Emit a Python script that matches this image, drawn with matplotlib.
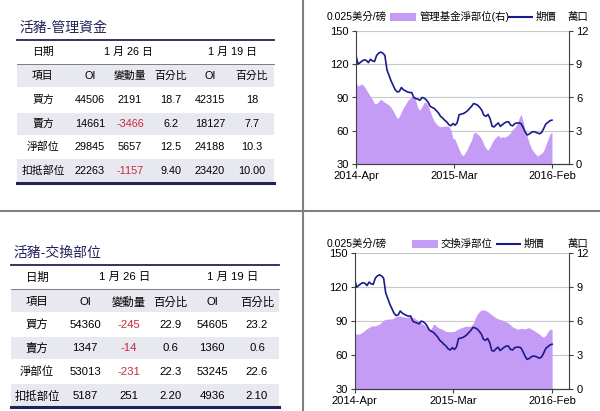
import matplotlib
matplotlib.use('agg')
import matplotlib.pyplot as plt
from matplotlib.patches import Rectangle
from matplotlib.lines import Line2D
import numpy as np

plt.rcParams['font.family'] = ['Liberation Sans', 'Noto Sans CJK TC']

# weekly futures price (0.025 US cents / lb), 2014-Apr .. 2016-Jan
price = [128, 120, 121.5, 123, 124, 123.5, 121.5, 124.5, 123, 122.5,
         128, 130, 131, 130, 128, 115, 110, 105, 101, 97,
         95, 95.5, 99, 97, 96, 95, 94.5, 94.5, 90, 89,
         88.5, 87.5, 90, 89.5, 88, 85.5, 82, 81, 80, 78,
         76, 73, 71.5, 69.5, 68, 65.5, 64.5, 66.5, 65, 67,
         74.5, 75, 75.5, 76.5, 78, 80, 82, 84.5, 84, 83,
         81, 78.5, 74, 73, 74.7, 71, 64, 63.5, 65.5, 67,
         64, 65.5, 67, 68, 68, 65, 64.5, 66.5, 67, 67,
         66.5, 63, 59, 56.2, 57, 58.5, 59.2, 58.8, 58, 57.2,
         58.5, 62, 66, 67.5, 69, 69.6]

# managed money net position (10k contracts)
mm_net = [7.3, 7.05, 7.15, 7.2, 7.0, 6.7, 6.4, 6.1, 5.8, 5.45,
          5.45, 5.65, 5.85, 5.7, 5.55, 5.45, 5.3, 5.1, 4.8, 4.45,
          4.1, 4.3, 4.7, 5.1, 5.4, 5.7, 5.9, 6.05, 6.15, 5.7,
          5.05, 4.86, 5.2, 5.55, 5.55, 5.25, 4.75, 4.2, 3.85, 3.6,
          3.45, 3.36, 3.4, 3.42, 3.42, 3.38, 3.07, 2.3, 2.23, 1.75,
          1.3, 0.9, 0.75, 1.05, 1.35, 1.8, 2.15, 2.8, 2.85, 2.7,
          2.5, 2.2, 1.75, 1.4, 1.25, 1.55, 1.95, 2.25, 2.45, 2.6,
          2.35, 2.47, 2.42, 2.5, 2.65, 2.85, 3.15, 3.3, 3.6, 4.1,
          4.5, 3.9, 3.0, 2.5, 1.9, 1.4, 1.15, 0.9, 0.72, 0.85,
          0.98, 1.2, 1.7, 2.2, 2.7, 2.85]

# swap dealer net position (10k contracts)
swap_net = [4.85, 4.85, 4.86, 4.92, 5.05, 5.2, 5.35, 5.45, 5.57, 5.57,
            5.6, 5.65, 5.75, 5.9, 6.1, 6.15, 6.18, 6.2, 6.2, 6.3,
            6.4, 6.45, 6.45, 6.4, 6.36, 6.34, 6.38, 6.38, 6.34, 6.25,
            6.12, 6.0, 5.85, 5.72, 5.6, 5.45, 5.22, 5.35, 5.75, 5.65,
            5.45, 5.37, 5.3, 5.2, 5.08, 5.07, 5.07, 5.07, 5.1, 5.22,
            5.32, 5.4, 5.46, 5.52, 5.57, 5.52, 5.6, 5.75, 6.26, 6.6,
            6.85, 6.98, 7.0, 6.95, 6.85, 6.7, 6.56, 6.42, 6.3, 6.2,
            6.15, 6.1, 6.0, 5.92, 5.83, 5.65, 5.5, 5.4, 5.32, 5.3,
            5.36, 5.35, 5.3, 5.4, 5.42, 5.3, 5.2, 5.08, 4.97, 4.85,
            4.65, 4.6, 4.75, 5.1, 5.28, 5.3]

x_labels = ['2014-Apr', '2015-Mar', '2016-Feb']

# tables
cols = ['項目', 'OI', '變動量', '百分比', 'OI', '百分比']
rows = ['買方', '賣方', '淨部位', '扣抵部位']
mm_table = [['44506', '2191', '18.7', '42315', '18'],
            ['14661', '-3466', '6.2', '18127', '7.7'],
            ['29845', '5657', '12.5', '24188', '10.3'],
            ['22263', '-1157', '9.40', '23420', '10.00']]
swap_table = [['54360', '-245', '22.9', '54605', '23.2'],
              ['1347', '-14', '0.6', '1360', '0.6'],
              ['53013', '-231', '22.3', '53245', '22.6'],
              ['5187', '251', '2.20', '4936', '2.10']]

W, H = 600, 411
FILL = '#c59cf5'
LINE = '#1a1a8c'
NAVY = '#22225a'
SHADE = '#e8e8f0'
RED = '#c8283c'

fig = plt.figure(figsize=(W / 100, H / 100), dpi=100)


def fx(x):
    return x / W


def fy(y):
    return 1 - y / H


def text(x, y, s, **kw):
    kw.setdefault('ha', 'center')
    kw.setdefault('va', 'center')
    kw.setdefault('fontsize', 7.5)
    fig.text(fx(x), fy(y), s, **kw)


def hline(x0, x1, y, lw, color):
    fig.add_artist(Line2D([fx(x0), fx(x1)], [fy(y), fy(y)], lw=lw, color=color))


def box(x0, y0, x1, y1, color):
    fig.add_artist(Rectangle((fx(x0), fy(y1)), fx(x1) - fx(x0), fy(y0) - fy(y1),
                             facecolor=color, edgecolor='none', zorder=0))


def draw_table(title, data, tx, ty, x0, x1, col_x, date_x, row_y, bands, lines, fs):
    text(tx, ty, title, ha='left', fontsize=10, color=NAVY)
    for b0, b1 in bands:
        box(x0, b0, x1, b1, SHADE)
    hline(x0, x1, lines[0], 1.3, NAVY)
    hline(x0, x1, lines[1], 0.6, '#666666')
    hline(x0, x1, lines[2], 2.2, NAVY)
    for s, x in zip(['日期', '1 月 26 日', '1 月 19 日'], date_x):
        text(x, row_y[0], s, fontsize=fs)
    for s, x in zip(cols, col_x):
        text(x, row_y[1], s, fontsize=fs)
    for i, r in enumerate(rows):
        text(col_x[0], row_y[i + 2], r, fontsize=fs)
        for j, v in enumerate(data[i]):
            c = RED if v.startswith('-') else 'black'
            text(col_x[j + 1], row_y[i + 2], v, fontsize=fs, color=c)


def draw_chart(rect, net, legend_name, legend_pos, ylab_y):
    n = len(price)
    w = np.arange(n)
    ax2 = fig.add_axes(rect)
    ax = ax2.twinx()
    ax.yaxis.tick_left()
    ax2.yaxis.tick_right()
    ax2.fill_between(w, 0, net, color=FILL, lw=0, zorder=1)
    ax2.set_ylim(0, 12)
    ax2.set_yticks([0, 3, 6, 9, 12])
    ax2.yaxis.grid(True, color='#c8c8c8', lw=0.8)
    ax2.set_axisbelow(True)
    ax.plot(w, price, color=LINE, lw=1.2)
    ax.set_ylim(30, 150)
    ax.set_yticks([30, 60, 90, 120, 150])
    ax.set_zorder(ax2.get_zorder() + 1)
    ax.patch.set_visible(False)
    xmax = (n - 1) * 1.087
    for a in (ax, ax2):
        a.set_xlim(0, xmax)
        a.spines['top'].set_visible(False)
        for s in ('left', 'right', 'bottom'):
            a.spines[s].set_color('#404040')
        a.tick_params(length=3, width=0.8, color='#404040', labelsize=8, pad=2)
    ax2.spines['left'].set_visible(False)
    ax.spines['right'].set_visible(False)
    ax2.set_xticks([0, (n - 1) / 2, n - 1])
    ax2.set_xticklabels(x_labels)
    ax.tick_params(axis='y', left=True, right=False, labelleft=True, labelright=False)
    ax2.tick_params(axis='y', left=False, right=True, labelleft=False, labelright=True)

    text(327, ylab_y, '0.025美分/磅', ha='left', fontsize=7.5)
    text(578, ylab_y, '萬口', fontsize=7.5)
    p0, t0, l0, t1 = legend_pos
    box(p0, ylab_y - 4, p0 + 26, ylab_y + 4, FILL)
    text(t0, ylab_y, legend_name, ha='left', fontsize=7.5)
    fig.add_artist(Line2D([fx(l0), fx(l0 + 23)], [fy(ylab_y), fy(ylab_y)], lw=1.5, color=LINE))
    text(t1, ylab_y, '期價', ha='left', fontsize=7.5)


# separators
fig.add_artist(Line2D([fx(303), fx(303)], [0, 1], lw=1.5, color='#808080'))
fig.add_artist(Line2D([0, 1], [fy(211), fy(211)], lw=1.5, color='#808080'))

draw_table('活豬-管理資金', mm_table, 19, 28, 17, 274,
           [43, 90, 130, 171, 210, 252], [43, 128, 232],
           [52, 76, 100, 124, 147, 171],
           [(65, 87), (113, 135), (159, 182)], (40, 64, 183), 7.8)
draw_table('活豬-交換部位', swap_table, 13, 253, 11, 279,
           [37, 85, 129, 170, 212, 257], [37, 125, 233],
           [277, 302, 325, 348, 372, 396],
           [(290, 312), (337, 359), (384, 406)], (265, 289, 407), 8.2)

draw_chart([fx(356), fy(164), (569 - 356) / W, (164 - 31) / H], mm_net,
           '管理基金淨部位(右)', (390, 420, 509, 536), 17)
draw_chart([fx(354.5), fy(389), (569.3 - 354.5) / W, (389 - 253.3) / H], swap_net,
           '交換淨部位', (412, 440, 497, 524), 244)

fig.savefig('out.png', dpi=100)
